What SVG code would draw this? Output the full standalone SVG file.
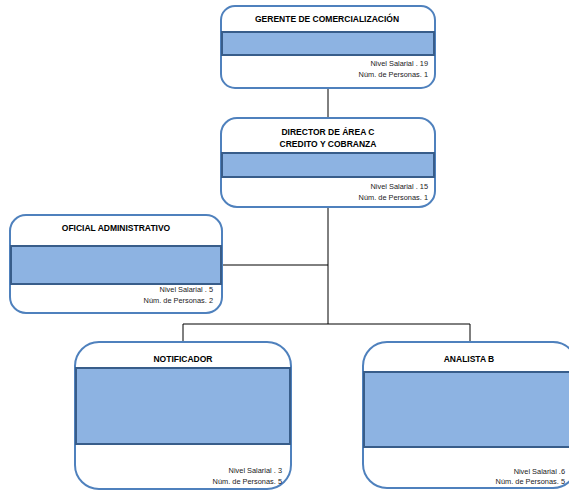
<svg xmlns="http://www.w3.org/2000/svg" width="569" height="493" viewBox="0 0 569 493">
<style>
.box{fill:#ffffff;stroke:#4f81bd;stroke-width:2}
.band{fill:#8db3e2;stroke:#385d8a;stroke-width:2}
.t{font-family:"Liberation Sans",Arial,sans-serif;font-weight:bold;font-size:8.5px;fill:#000;text-anchor:middle}
.s{font-family:"Liberation Sans",Arial,sans-serif;font-size:7.4px;fill:#1a1a1a;text-anchor:end}
.c{stroke:#000;stroke-width:1;fill:none}
</style>
<rect width="569" height="493" fill="#ffffff"/>
<g id="connectors">
<line class="c" x1="328" y1="88" x2="328" y2="118"/>
<line class="c" x1="328" y1="207" x2="328" y2="324"/>
<line class="c" x1="222" y1="265" x2="328" y2="265"/>
<line class="c" x1="183" y1="324" x2="470" y2="324"/>
<line class="c" x1="183" y1="324" x2="183" y2="342"/>
<line class="c" x1="470" y1="324" x2="470" y2="342"/>
</g>
<g id="gerente">
<rect class="box" x="221" y="6" width="214" height="82" rx="14"/>
<rect class="band" x="222" y="32" width="212" height="23"/>
<text class="t" x="327" y="22">GERENTE DE COMERCIALIZACIÓN</text>
<text class="s" x="428" y="66">Nivel Salarial . 19</text>
<text class="s" x="428" y="77">Núm. de Personas. 1</text>
</g>
<g id="director">
<rect class="box" x="221" y="118" width="214" height="89" rx="16"/>
<rect class="band" x="222" y="153" width="212" height="24"/>
<text class="t" x="328" y="135">DIRECTOR DE ÁREA C</text>
<text class="t" x="328" y="147">CREDITO Y COBRANZA</text>
<text class="s" x="428" y="189">Nivel Salarial . 15</text>
<text class="s" x="428" y="200">Núm. de Personas. 1</text>
</g>
<g id="oficial">
<rect class="box" x="10" y="215" width="212" height="98" rx="16"/>
<rect class="band" x="11" y="246" width="210" height="38"/>
<text class="t" x="116" y="231">OFICIAL ADMINISTRATIVO</text>
<text class="s" x="213" y="292">Nivel Salarial . 5</text>
<text class="s" x="213" y="303">Núm. de Personas. 2</text>
</g>
<g id="notificador">
<rect class="box" x="75" y="342" width="216" height="147" rx="24"/>
<rect class="band" x="76" y="368" width="214" height="76"/>
<text class="t" x="183" y="362">NOTIFICADOR</text>
<text class="s" x="282" y="473">Nivel Salarial . 3</text>
<text class="s" x="282" y="484">Núm. de Personas. 5</text>
</g>
<g id="analista">
<rect class="box" x="363" y="342" width="214" height="146" rx="24"/>
<rect class="band" x="364" y="372" width="212" height="75"/>
<text class="t" x="469" y="362">ANALISTA B</text>
<text class="s" x="565" y="474">Nivel Salarial .6</text>
<text class="s" x="565" y="484">Núm. de Personas. 5</text>
</g>
</svg>
